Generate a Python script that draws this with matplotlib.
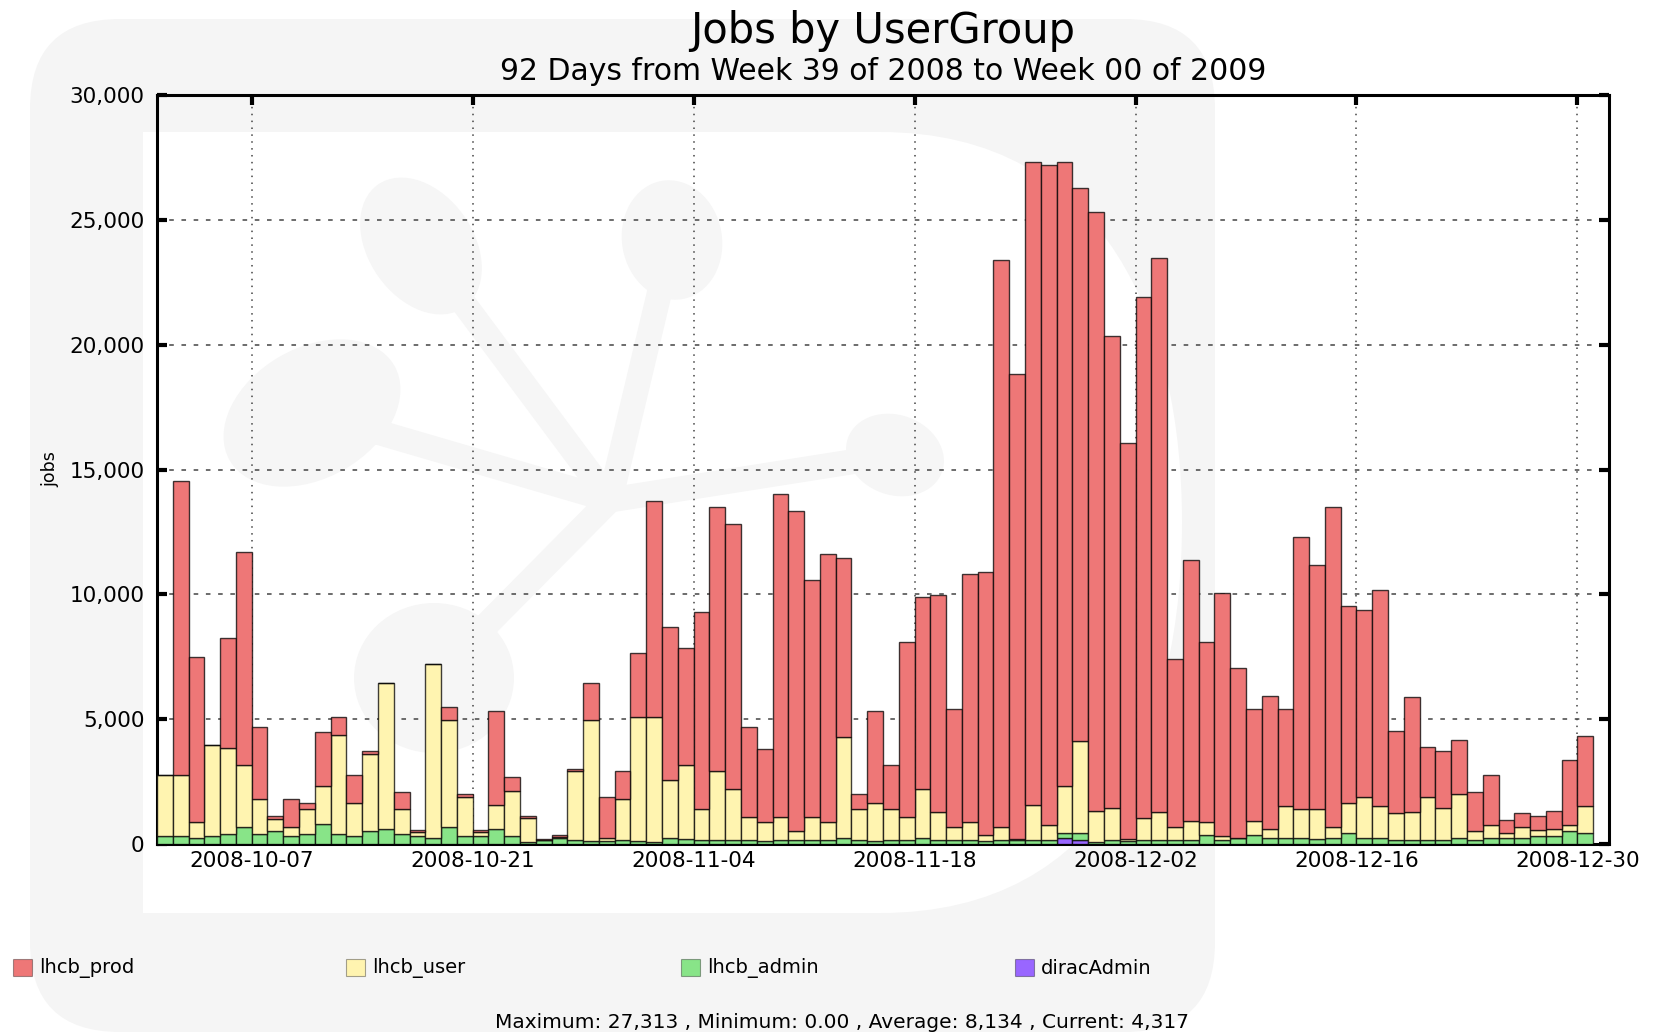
import numpy as np
import pandas as pd
import matplotlib
matplotlib.use("Agg")
import matplotlib.pyplot as plt
import matplotlib.dates as mdates
from matplotlib.patches import FancyBboxPatch, Ellipse, Rectangle, PathPatch
from matplotlib.path import Path
from matplotlib.ticker import FuncFormatter, MultipleLocator

# ---------------- data ----------------
days = pd.date_range("2008-10-01", periods=92, freq="D")

lhcb_prod = [
    0, 11758, 6620, 0, 4407, 8536, 2865, 138, 1126, 257,
    2174, 731, 1126, 99, 0, 682, 80, 0, 513, 104,
    80, 3773, 561, 66, 20, 60, 70, 1482, 1669, 1136,
    2569, 8655, 6131, 4683, 7899, 10559, 10601, 3588, 2926, 12935,
    12818, 9477, 10731, 7173, 615, 3680, 1774, 7007, 7677, 8684,
    4727, 9960, 10547, 22708, 18622, 25751, 26449, 24977, 22171, 24008,
    18897, 15865, 20866, 22160, 6716, 10427, 7234, 9704, 6804, 4460,
    5341, 3860, 10903, 9776, 12802, 7895, 7490, 8642, 3317, 4574,
    2024, 2260, 2161, 1550, 2003, 507, 560, 575, 722, 2599,
    2782, 0]
lhcb_user = [
    2432, 2432, 635, 3618, 3453, 2468, 1418, 468, 358, 983,
    1524, 3947, 1306, 3096, 5862, 988, 146, 6958, 4286, 1562,
    146, 962, 1802, 962, 20, 73, 2770, 4860, 107, 1629,
    4958, 4985, 2309, 2975, 1228, 2777, 2043, 935, 748, 935,
    360, 935, 708, 4061, 1228, 1535, 1228, 935, 1976, 1135,
    508, 708, 240, 508, 30, 1402, 600, 1896, 3656, 1231,
    1295, 80, 868, 1135, 534, 775, 508, 174, 23, 575,
    333, 1281, 1134, 1201, 440, 1202, 1642, 1281, 1068, 1135,
    1709, 1295, 1735, 360, 506, 200, 414, 226, 266, 240,
    1108, 0]
lhcb_admin = [
    334, 334, 254, 334, 400, 694, 400, 520, 334, 400,
    788, 400, 334, 520, 600, 400, 334, 254, 694, 334,
    334, 600, 334, 93, 160, 227, 160, 120, 120, 160,
    120, 93, 254, 187, 160, 160, 160, 160, 120, 160,
    160, 160, 160, 227, 160, 120, 160, 160, 227, 160,
    160, 160, 120, 160, 160, 160, 160, 200, 294, 93,
    160, 120, 160, 160, 160, 160, 360, 160, 227, 360,
    254, 254, 254, 187, 254, 427, 254, 254, 160, 160,
    160, 160, 254, 160, 254, 254, 254, 334, 334, 520,
    427, 0]
diracAdmin = [0] * 92
diracAdmin[57] = 227
diracAdmin[58] = 160

series_names = ["lhcb_prod", "lhcb_user", "lhcb_admin", "diracAdmin"]
series_colors = ["#ee7777", "#fff4b0", "#88e488", "#9966ff"]

tick_dates = ["2008-10-07", "2008-10-21", "2008-11-04", "2008-11-18",
              "2008-12-02", "2008-12-16", "2008-12-30"]

title = "Jobs by UserGroup"
subtitle = "92 Days from Week 39 of 2008 to Week 00 of 2009"
footer = "Maximum: 27,313 , Minimum: 0.00 , Average: 8,134 , Current: 4,317"

# ---------------- figure ----------------
W, H = 1660, 1034
fig = plt.figure(figsize=(W / 100, H / 100), dpi=100)
fig.patch.set_facecolor("white")

# watermark background (pixel coordinates)
bg = fig.add_axes([0, 0, 1, 1], zorder=-5)
bg.set_xlim(0, W)
bg.set_ylim(H, 0)
bg.axis("off")
bg.add_patch(FancyBboxPatch((30, 19), 1185, 1013,
                            boxstyle="round,pad=0,rounding_size=90",
                            fc="#f5f5f5", ec="none"))
verts = [(143, 132), (880, 132), (1110, 132), (1182, 330), (1182, 522),
         (1182, 720), (1110, 913), (880, 913), (143, 913), (143, 132)]
codes = [Path.MOVETO, Path.LINETO, Path.CURVE4, Path.CURVE4, Path.CURVE4,
         Path.CURVE4, Path.CURVE4, Path.CURVE4, Path.LINETO, Path.CLOSEPOLY]
bg.add_patch(PathPatch(Path(verts, codes), fc="white", ec="none"))
logo_col = "#f6f6f6"
hub = (610, 500)
nodes = [((421, 246), 150, 105, 55), ((672, 240), 120, 100, 80),
         ((312, 413), 190, 130, -30), ((895, 455), 100, 80, 20),
         ((434, 678), 160, 150, 0)]
for (cx, cy), w, h, a in nodes:
    bg.plot([hub[0], cx], [hub[1], cy], color=logo_col, lw=18,
            solid_capstyle="round", zorder=1)
    bg.add_patch(Ellipse((cx, cy), w, h, angle=a, fc=logo_col, ec="none", zorder=1))

# main axes
L, R, T, B = 157, 1609, 95, 844
ax = fig.add_axes([L / W, 1 - B / H, (R - L) / W, (B - T) / H])
ax.set_facecolor("none")

x = mdates.date2num(days.to_pydatetime())
stack_order = [diracAdmin, lhcb_admin, lhcb_user, lhcb_prod]
stack_colors = [series_colors[3], series_colors[2], series_colors[1], series_colors[0]]
bottom = np.zeros(len(days))
for vals, col in zip(stack_order, stack_colors):
    v = np.array(vals, dtype=float)
    ax.bar(x, v, width=1.0, bottom=bottom, align="edge", color=col,
           edgecolor=(0, 0, 0, 0.75), linewidth=1.0, zorder=3)
    bottom += v

ax.set_xlim(mdates.date2num(pd.Timestamp("2008-10-01")),
            mdates.date2num(pd.Timestamp("2009-01-01")))
ax.set_ylim(0, 30000)
ticks = mdates.date2num(pd.to_datetime(tick_dates).to_pydatetime())
ax.set_xticks(ticks)
ax.set_xticklabels(tick_dates)
ax.yaxis.set_major_locator(MultipleLocator(5000))
ax.yaxis.set_major_formatter(FuncFormatter(lambda v, p: f"{int(v):,}"))

for s in ax.spines.values():
    s.set_linewidth(2.2)
    s.set_color("black")
ax.tick_params(axis="both", which="major", direction="in", length=7, width=3,
               top=True, right=True, labelsize=15.5, colors="black", zorder=5)
ax.tick_params(axis="x", pad=5)
ax.tick_params(axis="y", pad=9)
ax.xaxis.grid(True, linestyle=(0, (1, 3.5)), color="#444444", linewidth=1.1, zorder=1)
ax.yaxis.grid(True, linestyle=(0, (3, 5)), color="#444444", linewidth=1.1, zorder=1)
ax.set_axisbelow(True)

ax.set_ylabel("jobs", fontsize=12.5)
ax.yaxis.set_label_coords((59 - L) / (R - L), 0.5)

fig.text(883 / W, 1 - 31 / H, title, ha="center", va="center", fontsize=30)
fig.text(883 / W, 1 - 72 / H, subtitle, ha="center", va="center", fontsize=21.5)

# legend (manual, evenly spaced)
leg_x = [13, 346, 681, 1015]
for name, col, lx in zip(series_names, series_colors, leg_x):
    fig.patches.append(Rectangle((lx / W, 1 - 976 / H), 19 / W, 17 / H,
                                 transform=fig.transFigure, fc=col,
                                 ec=(0, 0, 0, 0.35), lw=0.8))
    fig.text((lx + 26) / W, 1 - 968 / H, name, ha="left", va="center", fontsize=14)

fig.text(842 / W, 1 - 1022 / H, footer, ha="center", va="center", fontsize=14.5)

fig.savefig("out.png", dpi=100)
